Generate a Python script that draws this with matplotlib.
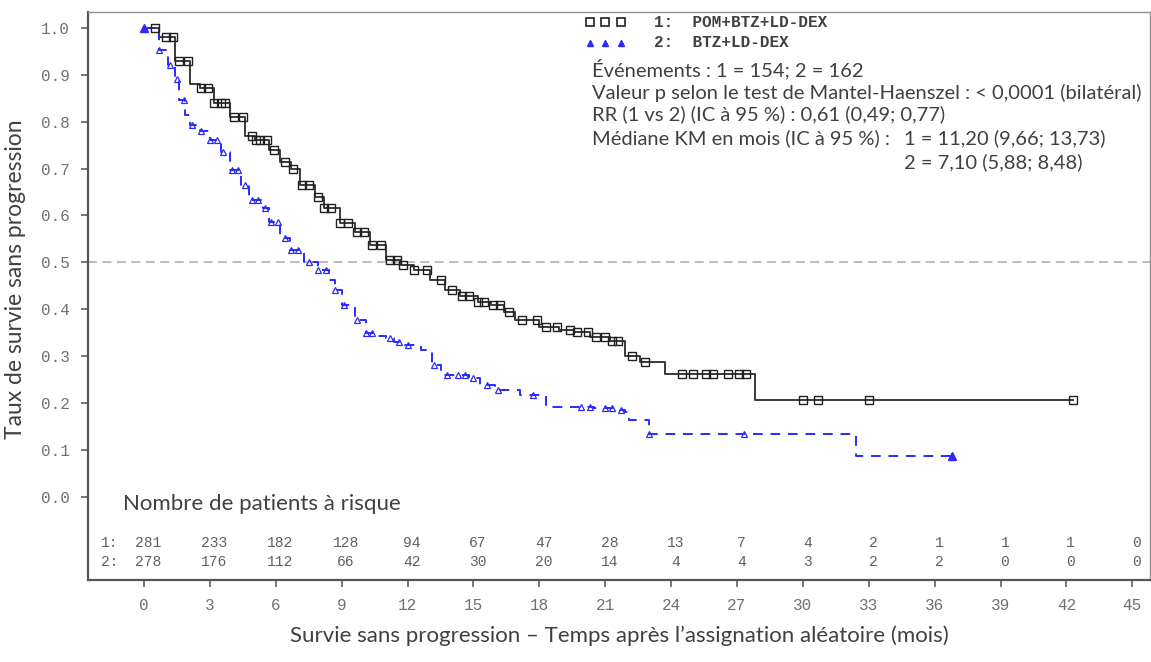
import numpy as np
import matplotlib
matplotlib.use("Agg")
import matplotlib.pyplot as plt

# Kaplan-Meier step knots (months, survival)
pom_t = [0, 0.7, 1.4, 2.1, 2.55, 3.2, 3.9, 4.6, 5.05, 5.7, 6.2, 6.7, 7.1, 7.8, 8.2, 8.9,
         9.6, 10.3, 11.0, 11.7, 12.3, 13.0, 13.7, 14.4, 15.2, 15.8, 16.4, 16.9, 18.0, 18.9,
         19.6, 20.3, 21.2, 21.9, 22.6, 23.7, 27.8, 42.3]
pom_s = [1.0, 0.98, 0.93, 0.88, 0.872, 0.84, 0.81, 0.77, 0.76, 0.74, 0.715, 0.70, 0.665, 0.64,
         0.615, 0.585, 0.565, 0.537, 0.505, 0.495, 0.484, 0.463, 0.441, 0.428, 0.416, 0.41,
         0.394, 0.377, 0.362, 0.356, 0.352, 0.341, 0.333, 0.30, 0.288, 0.262, 0.207, 0.207]
pom_cens = [0.5, 1.0, 1.3, 1.6, 2.0, 2.6, 2.9, 3.2, 3.5, 3.7, 4.1, 4.5, 4.9, 5.1, 5.3, 5.6, 5.9,
            6.4, 6.8, 7.2, 7.5, 7.9, 8.2, 8.5, 8.9, 9.3, 9.7, 10.0, 10.4, 10.8, 11.2, 11.5, 11.8,
            12.3, 12.9, 13.5, 14.0, 14.5, 14.8, 15.2, 15.5, 15.9, 16.2, 16.6, 17.2, 17.9, 18.3,
            18.8, 19.4, 19.7, 20.2, 20.6, 21.0, 21.3, 21.6, 22.2, 22.8, 24.5, 25.0, 25.6, 25.9,
            26.6, 27.1, 27.4, 30.0, 30.7, 33.0, 42.3]

btz_t = [0, 0.7, 1.1, 1.4, 1.6, 1.87, 2.1, 2.55, 3.0, 3.5, 3.9, 4.4, 4.8, 5.4, 5.7, 6.2, 6.65,
         7.3, 7.9, 8.4, 8.7, 9.0, 9.6, 10.1, 10.5, 11.0, 11.4, 11.9, 12.6, 13.1, 13.5, 14.8,
         15.3, 16.0, 17.1, 18.3, 20.5, 21.4, 21.9, 22.1, 23.0, 32.4, 36.8]
btz_s = [1.0, 0.953, 0.92, 0.89, 0.846, 0.815, 0.793, 0.78, 0.76, 0.735, 0.697, 0.665, 0.633,
         0.616, 0.586, 0.552, 0.527, 0.501, 0.484, 0.463, 0.441, 0.409, 0.377, 0.35, 0.343,
         0.339, 0.33, 0.324, 0.313, 0.281, 0.26, 0.254, 0.239, 0.228, 0.217, 0.192, 0.19,
         0.186, 0.18, 0.164, 0.134, 0.087, 0.087]
btz_cens = [0.7, 1.2, 1.5, 1.8, 2.2, 2.6, 3.0, 3.3, 3.6, 4.0, 4.3, 4.6, 4.9, 5.2, 5.5, 5.8, 6.1,
            6.4, 6.7, 7.0, 7.5, 7.9, 8.3, 8.7, 9.1, 9.7, 10.1, 10.4, 11.2, 11.6, 12.0, 13.2,
            13.8, 14.3, 14.6, 15.0, 15.6, 16.1, 17.7, 19.9, 20.3, 21.0, 21.3, 21.7, 23.0, 27.3,
            36.8]

risk_times = [0, 3, 6, 9, 12, 15, 18, 21, 24, 27, 30, 33, 36, 39, 42, 45]
risk_pom = [281, 233, 182, 128, 94, 67, 47, 28, 13, 7, 4, 2, 1, 1, 1, 0]
risk_btz = [278, 176, 112, 66, 42, 30, 20, 14, 4, 4, 3, 2, 2, 0, 0, 0]

SANS = "Lato"
MONO = "Liberation Mono"
TXT = "#404040"
BLUE = "#2a2aff"


def step_value(t, times, surv):
    i = np.searchsorted(times, t, side="right") - 1
    return surv[max(i, 0)]


fig = plt.figure(figsize=(11.51, 6.62), dpi=100)
ax = fig.add_axes([0.0765, 0.124, 0.9225, 0.858])
ax.set_xlim(-2.55, 45.8)
ax.set_ylim(-0.177, 1.034)

ax.axhline(0.5, color="#b8b8b8", lw=1.3, ls=(0, (5, 3)), zorder=1)

ax.step(pom_t, pom_s, where="post", color="#3a3a3a", lw=1.4, zorder=3)
ax.plot(pom_cens, [step_value(t, pom_t, pom_s) for t in pom_cens], ls="none", marker="s",
        ms=5.5, mfc="none", mec="#202020", mew=1.0, zorder=4)

ax.step(btz_t, btz_s, where="post", color=BLUE, lw=1.4, ls=(0, (5, 4)), zorder=3)
ax.plot(btz_cens, [step_value(t, btz_t, btz_s) for t in btz_cens], ls="none", marker="^",
        ms=5, mfc="none", mec=BLUE, mew=0.9, zorder=4)
ax.plot([0, 36.8], [1.0, 0.087], ls="none", marker="^", ms=6, color=BLUE, zorder=5)

# ticks
ax.set_yticks([i / 10 for i in range(11)])
ax.set_yticklabels(["%.1f" % (i / 10) for i in range(11)], family=MONO, fontsize=11.5,
                   color="#707070")
ax.set_xticks(risk_times)
ax.set_xticklabels([str(t) for t in risk_times], family=MONO, fontsize=11.5, color="#707070")
ax.tick_params(direction="out", length=5, width=1.2, color="#606060", pad=8)
for s in ["left", "bottom"]:
    ax.spines[s].set_color("#555555")
    ax.spines[s].set_linewidth(1.6)
for s in ["top", "right"]:
    ax.spines[s].set_color("#909090")
    ax.spines[s].set_linewidth(1.0)

ax.set_xlabel("Survie sans progression \u2013 Temps après l\u2019assignation aléatoire (mois)",
              family=SANS, fontsize=16, color=TXT, labelpad=9)
ax.set_ylabel("Taux de survie sans progression", family=SANS, fontsize=16.5, color=TXT)
ax.yaxis.set_label_coords(-0.058, 0.53)

# legend / stats block
ax.plot([20.3, 21.0, 21.7], [1.012] * 3, ls="none", marker="s", ms=6, mfc="none",
        mec="#202020", mew=1.2)
ax.plot([20.3, 21.0, 21.7], [0.968] * 3, ls="none", marker="^", ms=5, color=BLUE)
ax.text(23.2, 1.012, "1:  POM+BTZ+LD-DEX", family=MONO, fontsize=11.5, color=TXT,
        va="center", fontweight="bold")
ax.text(23.2, 0.968, "2:  BTZ+LD-DEX", family=MONO, fontsize=11.5, color=TXT,
        va="center", fontweight="bold")
stats = [
    (20.4, 0.913, "Événements : 1 = 154; 2 = 162"),
    (20.4, 0.862, "Valeur p selon le test de Mantel-Haenszel : < 0,0001 (bilatéral)"),
    (20.4, 0.815, "RR (1 vs 2) (IC à 95 %) : 0,61 (0,49; 0,77)"),
    (20.4, 0.764, "Médiane KM en mois (IC à 95 %) :"),
    (34.6, 0.764, "1 = 11,20 (9,66; 13,73)"),
    (34.6, 0.713, "2 = 7,10 (5,88; 8,48)"),
]
for x, y, s in stats:
    ax.text(x, y, s, family=SANS, fontsize=14.5, color=TXT, va="center")

# number at risk
ax.text(-0.95, -0.015, "Nombre de patients à risque", family=SANS, fontsize=16,
        color=TXT, va="center")
ax.text(-1.55, -0.098, "1:", family=MONO, fontsize=10.5, color="#606060", va="center",
        ha="center")
ax.text(-1.55, -0.138, "2:", family=MONO, fontsize=10.5, color="#606060", va="center",
        ha="center")
for t, a, b in zip(risk_times, risk_pom, risk_btz):
    ax.text(t + 0.2, -0.098, str(a), family=MONO, fontsize=10.5, color="#606060",
            va="center", ha="center")
    ax.text(t + 0.2, -0.138, str(b), family=MONO, fontsize=10.5, color="#606060",
            va="center", ha="center")

fig.savefig("out.png", dpi=100)
